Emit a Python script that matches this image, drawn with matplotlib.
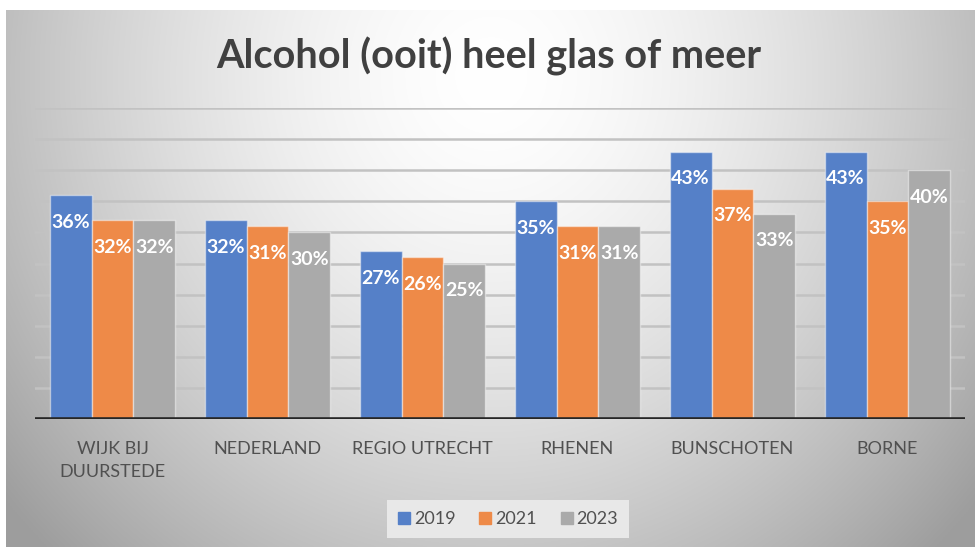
import numpy as np
import matplotlib
matplotlib.use("Agg")
import matplotlib.pyplot as plt
from matplotlib.lines import Line2D

categories = ["WIJK BIJ\nDUURSTEDE", "NEDERLAND", "REGIO UTRECHT", "RHENEN", "BUNSCHOTEN", "BORNE"]
series_names = ["2019", "2021", "2023"]
v2019 = [36, 32, 27, 35, 43, 43]
v2021 = [32, 31, 26, 31, 37, 35]
v2023 = [32, 30, 25, 31, 33, 40]
colors = ["#5580C8", "#EE8A48", "#AAAAAA"]
title = "Alcohol (ooit) heel glas of meer"

W, H = 978, 547
fig = plt.figure(figsize=(W / 100, H / 100), dpi=100, facecolor="white")

# background gradient panel
bx0, by0, bx1, by1 = 6, 10, 975, 547
bg = fig.add_axes([bx0 / W, 1 - by1 / H, (bx1 - bx0) / W, (by1 - by0) / H])
ny, nx = 300, 600
yy, xx = np.mgrid[0:ny, 0:nx]
cx, cy = nx * 0.5, ny * 0.12
r = np.sqrt(((xx - cx) / (nx * 0.5)) ** 2 + ((yy - cy) / (ny * 0.95)) ** 2)
val = 1.0 - 0.25 * np.clip(r, 0, 1.3) ** 1.6
img = np.dstack([val, val, val])
bg.imshow(img, aspect="auto", extent=[0, 1, 0, 1], interpolation="bilinear")
bg.set_axis_off()

left, right, top, base = 35, 965, 108, 419
ax = fig.add_axes([left / W, 1 - base / H, (right - left) / W, (base - top) / H])
ax.set_facecolor("none")
ax.set_xlim(-0.5, len(categories) - 0.5)
ax.set_ylim(0, 50)

for yv in range(5, 51, 5):
    ax.axhline(yv, color="#c2c2c2", lw=1.8, zorder=1)

x = np.arange(len(categories))
bw = 0.27
data = [v2019, v2021, v2023]
for i, (vals, c) in enumerate(zip(data, colors)):
    xs = x + (i - 1) * bw
    ax.bar(xs, vals, bw, color=c, edgecolor=(1, 1, 1, 0.45), linewidth=1, zorder=2)
    for xi, v in zip(xs, vals):
        ax.annotate(f"{v}%", (xi, v), xytext=(0, -19.5), textcoords="offset points",
                    ha="center", va="center", color="white", fontsize=14,
                    fontweight="bold", family="Lato", zorder=3)

ax.axhline(0, color="#262626", lw=2.6, zorder=4)
for s in ax.spines.values():
    s.set_visible(False)
ax.set_yticks([])
ax.set_xticks(x)
ax.set_xticklabels(categories, fontsize=13, family="Lato", color="#505050", linespacing=1.55)
ax.tick_params(axis="x", length=0, pad=16)

fig.text(0.5, 1 - 56 / H, title, ha="center", va="center", fontsize=28.5,
         fontweight="bold", family="Lato", color="#404040")

handles = [Line2D([0], [0], marker="s", color="none", markerfacecolor=c,
                  markeredgecolor=c, markersize=8) for c in colors]
leg = fig.legend(handles, series_names, loc="center", bbox_to_anchor=(508 / W, 1 - 519 / H),
                 ncol=3, frameon=True, prop={"family": "Lato", "size": 13},
                 handlelength=0.7, handletextpad=0.2, columnspacing=1.3,
                 facecolor="#e8e8e8", edgecolor="none", framealpha=1, fancybox=False,
                 borderpad=0.6)
for t in leg.get_texts():
    t.set_color("#505050")

fig.savefig("out.png", dpi=100, facecolor="white")
